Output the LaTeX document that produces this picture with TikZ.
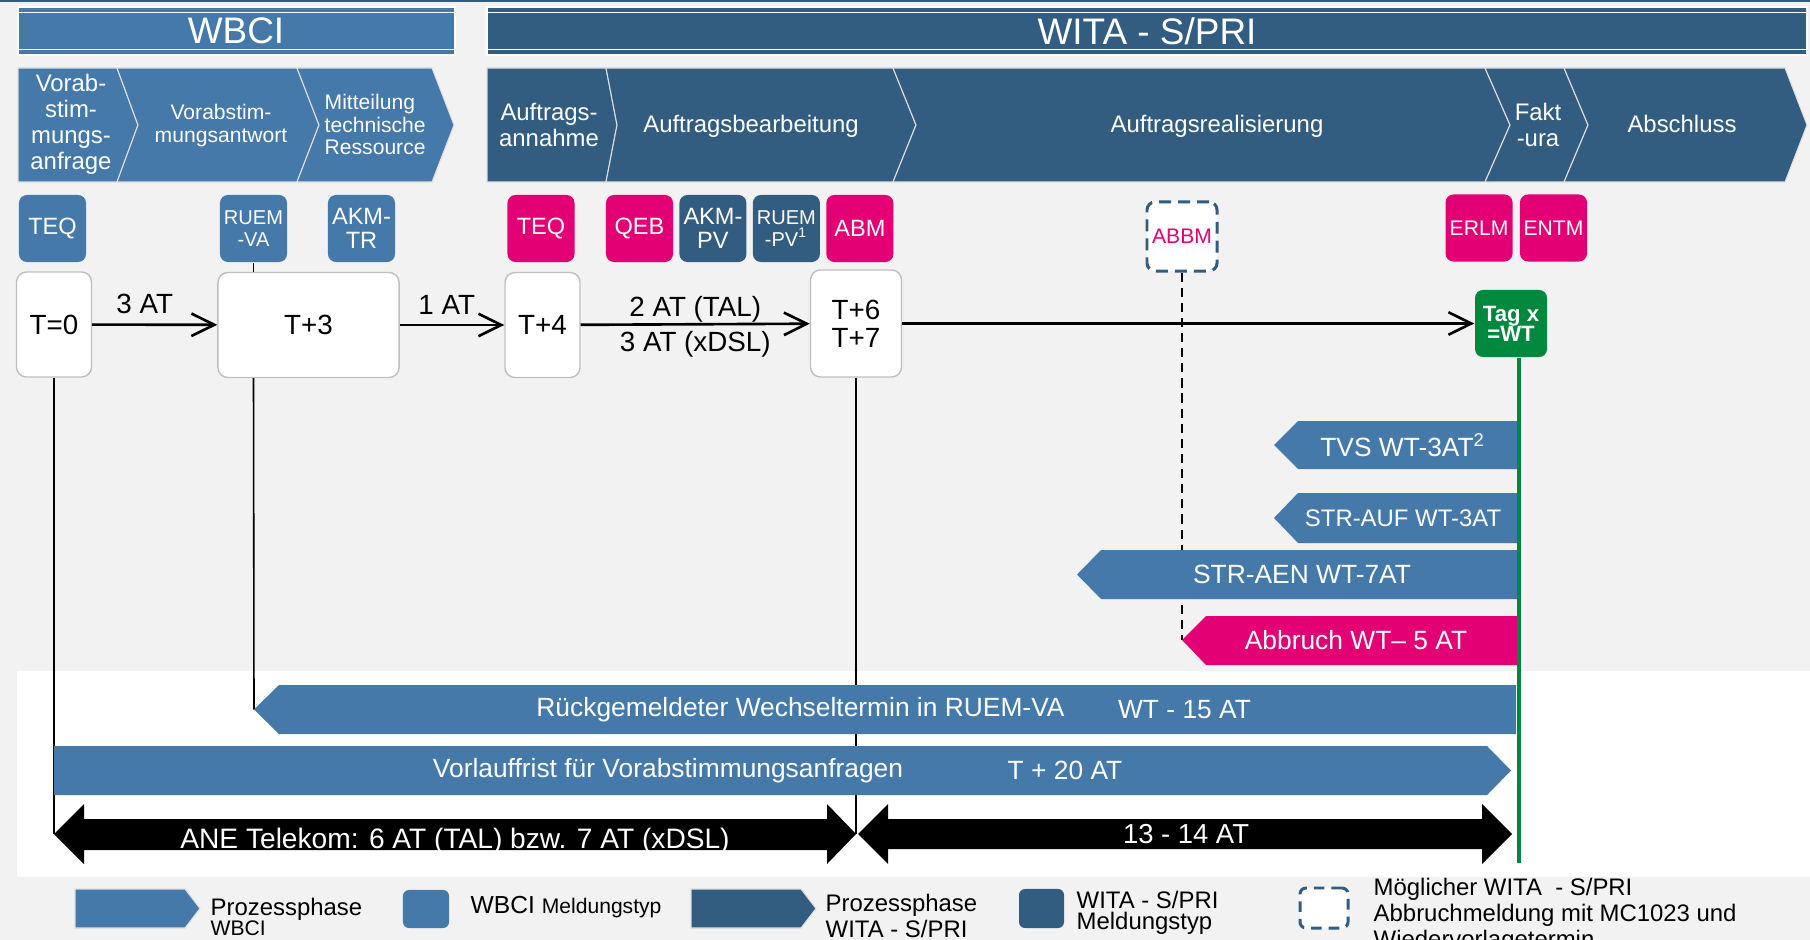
\documentclass[tikz,border=0pt]{standalone}
\usepackage{fontspec}
\setmainfont{Liberation Sans}
\usetikzlibrary{positioning, arrows.meta}

\definecolor{wbciblue}{RGB}{68,121,170}
\definecolor{witablue}{RGB}{50,93,129}
\definecolor{tmagenta}{RGB}{226,0,116}
\definecolor{wtgreen}{RGB}{0,136,62}
\definecolor{bggray}{RGB}{242,242,242}

\tikzset{
    phase/.style={draw=white!75!gray, line width=0.3pt}, % outline of the process phase chevrons
    phasetext/.style={text=white, font=\fontsize{6.8}{7.4}\selectfont, align=center, inner sep=0pt},
    msg/.style={rounded corners=0.08cm, minimum width=0.67cm, minimum height=0.67cm, inner sep=0pt,
        text=white, align=center, font=\fontsize{6.7}{6.8}\selectfont}, % message type boxes
    wbcimsg/.style={msg, fill=wbciblue},
    witamsg/.style={msg, fill=witablue},
    pinkmsg/.style={msg, fill=tmagenta},
    daybox/.style={draw=black!25, fill=white, rounded corners=0.1cm, minimum height=1.05cm,
        inner sep=0pt, align=center, font=\fontsize{7.9}{8}\selectfont}, % the T+n boxes
    tl/.style={-{Straight Barb[length=6.5pt,width=6.4pt]}, line width=0.75pt}, % time line arrows
    lbl/.style={font=\fontsize{7.9}{8}\selectfont, inner sep=1pt},
    bartext/.style={text=white, font=\fontsize{7.5}{8}\selectfont, inner sep=0pt},
    legtext/.style={font=\fontsize{6.8}{5.8}\selectfont, align=left, inner sep=0pt, anchor=west},
    vline/.style={line width=0.45pt},
}

\begin{document}
\begin{tikzpicture}[x=0.01cm, y=-0.01cm]
\useasboundingbox (0,0) rectangle (1810,940);
\fill[bggray] (0,0) rectangle (1810,940);
\fill[white] (17,671) rectangle (1810,877);
\draw[witablue, line width=0.5pt] (0,0.9) -- (1810,0.9);

% headers
\fill[wbciblue] (18,7) rectangle (455,55);
\draw[white, line width=0.5pt] (18,12.5) -- (455,12.5) (18,49.5) -- (455,49.5);
\draw[white, line width=0.4pt] (18,7) rectangle (455,55);
\node[text=white, font=\fontsize{10.5}{12}\selectfont] (wbcihead) at (236,31) {WBCI};
\fill[witablue] (487,7) rectangle (1807,55);
\draw[white, line width=0.5pt] (487,12.5) -- (1807,12.5) (487,49.5) -- (1807,49.5);
\draw[white, line width=0.4pt] (487,7) rectangle (1807,55);
\node[text=white, font=\fontsize{10.5}{12}\selectfont] (witahead) at (1147,31) {WITA - S/PRI};

% WBCI phases
\filldraw[phase, fill=wbciblue] (18,68) -- (117,68) -- (138,125) -- (117,182) -- (18,182) -- cycle;
\filldraw[phase, fill=wbciblue] (117,68) -- (297,68) -- (319,125) -- (297,182) -- (117,182) -- (138,125) -- cycle;
\filldraw[phase, fill=wbciblue] (297,68) -- (432,68) -- (454,125) -- (432,182) -- (297,182) -- (319,125) -- cycle;
\node[phasetext, font=\fontsize{6.8}{7.4}\selectfont] (ph1) at (71,124) {Vorab-\\stim-\\mungs-\\anfrage};
\node[phasetext, font=\fontsize{6}{6.4}\selectfont] (ph2) at (221,125.5) {Vorabstim-\\mungsantwort};
\node[phasetext, font=\fontsize{6}{6.4}\selectfont, align=left, anchor=west] (ph3) at (324,124.5) {Mitteilung\\technische\\Ressource};

% WITA phases
\filldraw[phase, fill=witablue] (487,68) -- (606,68) -- (617,125) -- (606,182) -- (487,182) -- cycle;
\filldraw[phase, fill=witablue] (606,68) -- (893,68) -- (916,125) -- (893,182) -- (606,182) -- (617,125) -- cycle;
\filldraw[phase, fill=witablue] (893,68) -- (1485,68) -- (1510,125) -- (1485,182) -- (893,182) -- (916,125) -- cycle;
\filldraw[phase, fill=witablue] (1485,68) -- (1564,68) -- (1588,125) -- (1564,182) -- (1485,182) -- (1510,125) -- cycle;
\filldraw[phase, fill=witablue] (1564,68) -- (1785,68) -- (1807,125) -- (1785,182) -- (1564,182) -- (1588,125) -- cycle;
\node[phasetext] (ph4) at (549,125) {Auftrags-\\annahme};
\node[phasetext] (ph5) at (751,126) {Auftragsbearbeitung};
\node[phasetext] (ph6) at (1217,126) {Auftragsrealisierung};
\node[phasetext] (ph7) at (1538,125) {Fakt\\-ura};
\node[phasetext] (ph8) at (1682,124) {Abschluss};

% message types
\node[wbcimsg] (teqa) at (52.5,228.5) {TEQ};
\node[wbcimsg, font=\fontsize{5.7}{6.2}\selectfont] (ruemva) at (253.5,228.5) {RUEM\\-VA};
\node[wbcimsg] (akmtr) at (361.5,228.5) {AKM-\\TR};
\node[pinkmsg] (teqb) at (541,228.5) {TEQ};
\node[pinkmsg] (qeb) at (639.5,228.5) {QEB};
\node[witamsg, right=0.5mm of qeb] (akmpv) {AKM-\\PV};
\node[witamsg, right=0.5mm of akmpv, font=\fontsize{5.7}{6.2}\selectfont] (ruempv) {RUEM\\-PV\textsuperscript{1}};
\node[pinkmsg, right=0.5mm of ruempv] (abm) {ABM};
\node[msg, fill=white, draw=witablue, line width=0.85pt, dash pattern=on 3.4pt off 2pt,
    minimum width=0.7cm, minimum height=0.69cm, text=tmagenta, font=\fontsize{6}{6}\selectfont] (abbm) at (1182,236.5) {ABBM};
\node[pinkmsg, font=\fontsize{6}{6}\selectfont] (erlm) at (1479,228) {ERLM};
\node[pinkmsg, font=\fontsize{6}{6}\selectfont, right=0.6mm of erlm] (entm) {ENTM};

% time line
\node[daybox, minimum width=0.75cm] (t0) at (54,324.5) {T=0};
\node[daybox, minimum width=1.81cm] (t3) at (308.5,325) {T+3};
\node[daybox, minimum width=0.75cm] (t4) at (542.5,325) {T+4};
\node[daybox, minimum width=0.91cm, minimum height=1.07cm] (t67) at (856,323.5) {T+6\\T+7};
\node[msg, fill=wtgreen, minimum width=0.72cm, font=\bfseries\fontsize{6.3}{5.7}\selectfont] (tagx) at (1511,323.5) {Tag x\\=WT};
\draw[tl] (t0) -- node[lbl, above, pos=0.42, inner sep=2.7pt] {3 AT} (t3);
\draw[tl] (t3) -- node[lbl, above, pos=0.45, inner sep=2.7pt] {1 AT} (t4);
\draw[tl] (t4) -- node[lbl, above, inner sep=0.3pt] {2 AT (TAL)} node[lbl, below, inner sep=1.6pt] {3 AT (xDSL)} (t67);
\draw[tl] (t67) -- (tagx);

% ends of the vertical lines
\coordinate (aneL) at (54,834);
\coordinate (rueTip) at (254,709.5);
\coordinate (meet) at (856,834);
\coordinate (abbTip) at (1182,640);
\coordinate (wtEnd) at (1519,863);

\draw[vline] (t0.south) -- (aneL);
\draw[vline] (ruemva.south) -- (ruemva.south |- t3.north);
\draw[vline] (ruemva.south |- t3.south) -- (rueTip);
\draw[vline] (t67.south) -- (meet);
\draw[vline, dash pattern=on 2.6pt off 1.7pt] (abbm.south) -- (abbTip);

% deadlines counted back from WT
\fill[wbciblue] (1274,445) -- (1298,421) -- (1518,421) -- (1518,469) -- (1298,469) -- cycle;
\node[bartext] (tvs) at (1403,445) {TVS WT-3AT\textsuperscript{2}};
\fill[wbciblue] (1274,518) -- (1298,493) -- (1518,493) -- (1518,543) -- (1298,543) -- cycle;
\node[bartext, font=\fontsize{6.8}{8}\selectfont] (strauf) at (1403,518) {STR-AUF WT-3AT};
\fill[wbciblue] (1077,574.5) -- (1101,550) -- (1518,550) -- (1518,599) -- (1101,599) -- cycle;
\node[bartext] (straen) at (1302,574.5) {STR-AEN WT-7AT};
\fill[tmagenta] (1182,640) -- (1206,616) -- (1518,616) -- (1518,665) -- (1206,665) -- cycle;
\node[bartext] (abbruch) at (1356,640) {Abbruch WT-- 5 AT};

\fill[wbciblue] (254,709.5) -- (279,685) -- (1516,685) -- (1516,734) -- (279,734) -- cycle;
\node[bartext] (rueck) at (800.5,709.5) {Rückgemeldeter Wechseltermin in RUEM-VA};
\node[bartext] (rueckwt) at (1184.5,709.5) {WT - 15 AT};
\fill[wbciblue] (54,746) -- (1487,746) -- (1511,770.5) -- (1487,795) -- (54,795) -- cycle;
\node[bartext] (vorlauf) at (668,770.5) {Vorlauffrist für Vorabstimmungsanfragen};
\node[bartext] (vorlaufat) at (1065,770.5) {T + 20 AT};

% durations
\fill (54,834) -- (84,804) -- (84,819) -- (827,819) -- (827,804) -- (856,834) -- (827,864) -- (827,850) -- (84,850) -- (84,864) -- cycle;
\node[bartext, font=\fontsize{8}{9}\selectfont, anchor=base] (ane) at (455,848) {ANE Telekom: 6 AT (TAL) bzw. 7 AT (xDSL)};
\fill (858,834) -- (888,804) -- (888,819) -- (1482,819) -- (1482,804) -- (1512,834) -- (1482,864) -- (1482,849) -- (888,849) -- (888,864) -- cycle;
\node[bartext, font=\fontsize{7.8}{9}\selectfont, anchor=base] (days) at (1186,843) {13 - 14 AT};

\draw[wtgreen, line width=1.1pt] (tagx.south -| wtEnd) -- (wtEnd);

% legend
\filldraw[phase, fill=wbciblue] (75,889) -- (185,889) -- (200,908.5) -- (185,928) -- (75,928) -- cycle;
\node[legtext] (lgphase) at (210,917) {Prozessphase\\{\fontsize{6}{5.8}\selectfont WBCI}};
\node[wbcimsg, minimum width=0.46cm, minimum height=0.38cm, rounded corners=0.06cm] (lgwbci) at (426,909) {};
\node[legtext, font=\fontsize{7}{6}\selectfont] (lgwbcit) at (470,907) {WBCI {\fontsize{6}{6}\selectfont Meldungstyp}};
\filldraw[phase, fill=witablue] (691,889) -- (801,889) -- (816,908.5) -- (801,928) -- (691,928) -- cycle;
\node[legtext] (lgphasew) at (825,916) {Prozessphase\\WITA - S/PRI};
\node[witamsg, minimum width=0.45cm, minimum height=0.39cm, rounded corners=0.06cm] (lgwita) at (1041.5,908.5) {};
\node[legtext] (lgwitat) at (1076,913) {WITA - S/PRI\\Meldungstyp};
\node[msg, fill=white, draw=witablue, line width=0.85pt, dash pattern=on 3pt off 2pt,
    minimum width=0.48cm, minimum height=0.4cm, rounded corners=0.06cm] (lgabbm) at (1324,908) {};
\node[legtext] (lgabbmt) at (1373,915) {Möglicher WITA\ \ - S/PRI\\Abbruchmeldung mit MC1023 und\\Wiedervorlagetermin};
\end{tikzpicture}
\end{document}
